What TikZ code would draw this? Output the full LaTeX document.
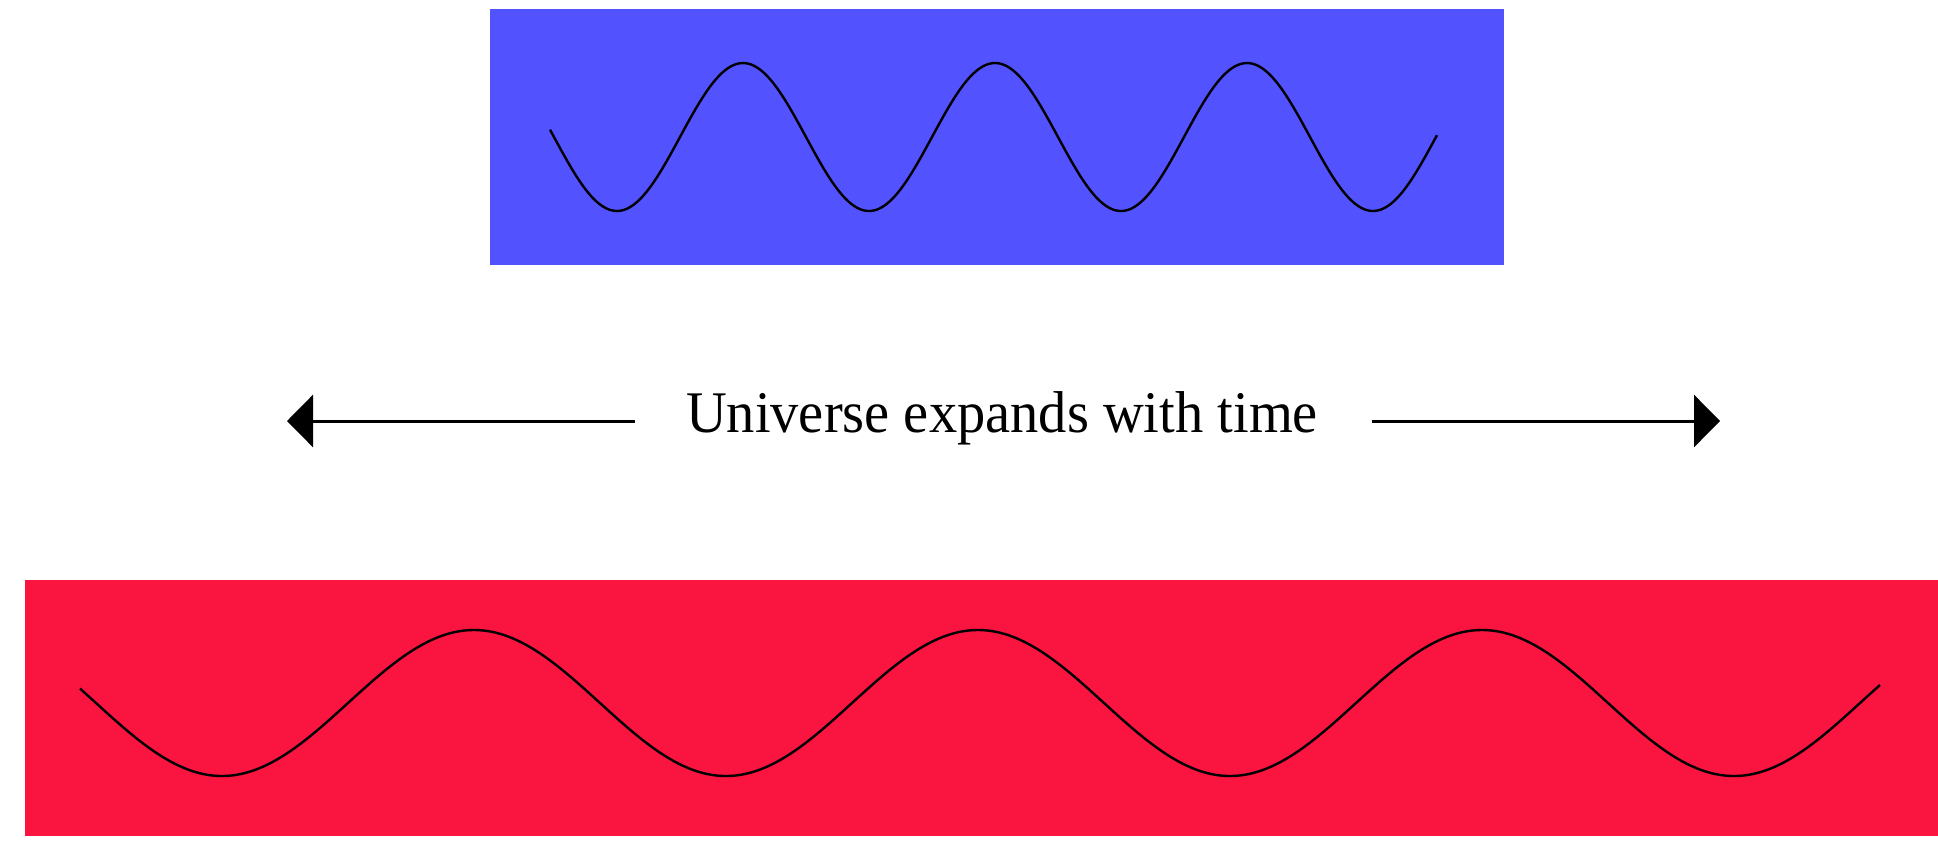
\documentclass[tikz,border=0pt]{standalone}
\usepackage{fontspec}
\setmainfont{Liberation Serif}
\usetikzlibrary{arrows.meta}
\definecolor{boxblue}{RGB}{82,82,255}
\definecolor{boxred}{RGB}{250,20,64}
\tikzset{
  wave/.style={black, line width=1.2pt, line join=round},
  timearrow/.style={black, line width=1.5pt, -{Triangle[length=13pt,width=26pt]}},
}
\begin{document}
\begin{tikzpicture}[x=0.5pt,y=-0.5pt]
\useasboundingbox (0,0) rectangle (1938,842);
% blue (short wavelength) box
\fill[boxblue] (490,9) rectangle (1504,265);
\draw[wave] plot[domain=550:1437, samples=300, smooth] (\x, {137+74*sin((\x-554)/252*360)});
% red (long wavelength) box
\fill[boxred] (25,580) rectangle (1938,836);
\draw[wave] plot[domain=80:1880, samples=400, smooth] (\x, {703+73*sin((\x-96)/504*360)});
% label and arrows
\node[anchor=base, inner sep=0pt, font=\fontsize{29.5pt}{34pt}\selectfont] (lbl) at (1002,432) {\scalebox{0.957}[1]{Universe expands with time}};
\coordinate (lstart) at (635,421);
\coordinate (ltip) at (287,421);
\coordinate (rstart) at (1372,421);
\coordinate (rtip) at (1720,421);
\draw[timearrow] (lstart) -- (ltip);
\draw[timearrow] (rstart) -- (rtip);
\end{tikzpicture}
\end{document}
